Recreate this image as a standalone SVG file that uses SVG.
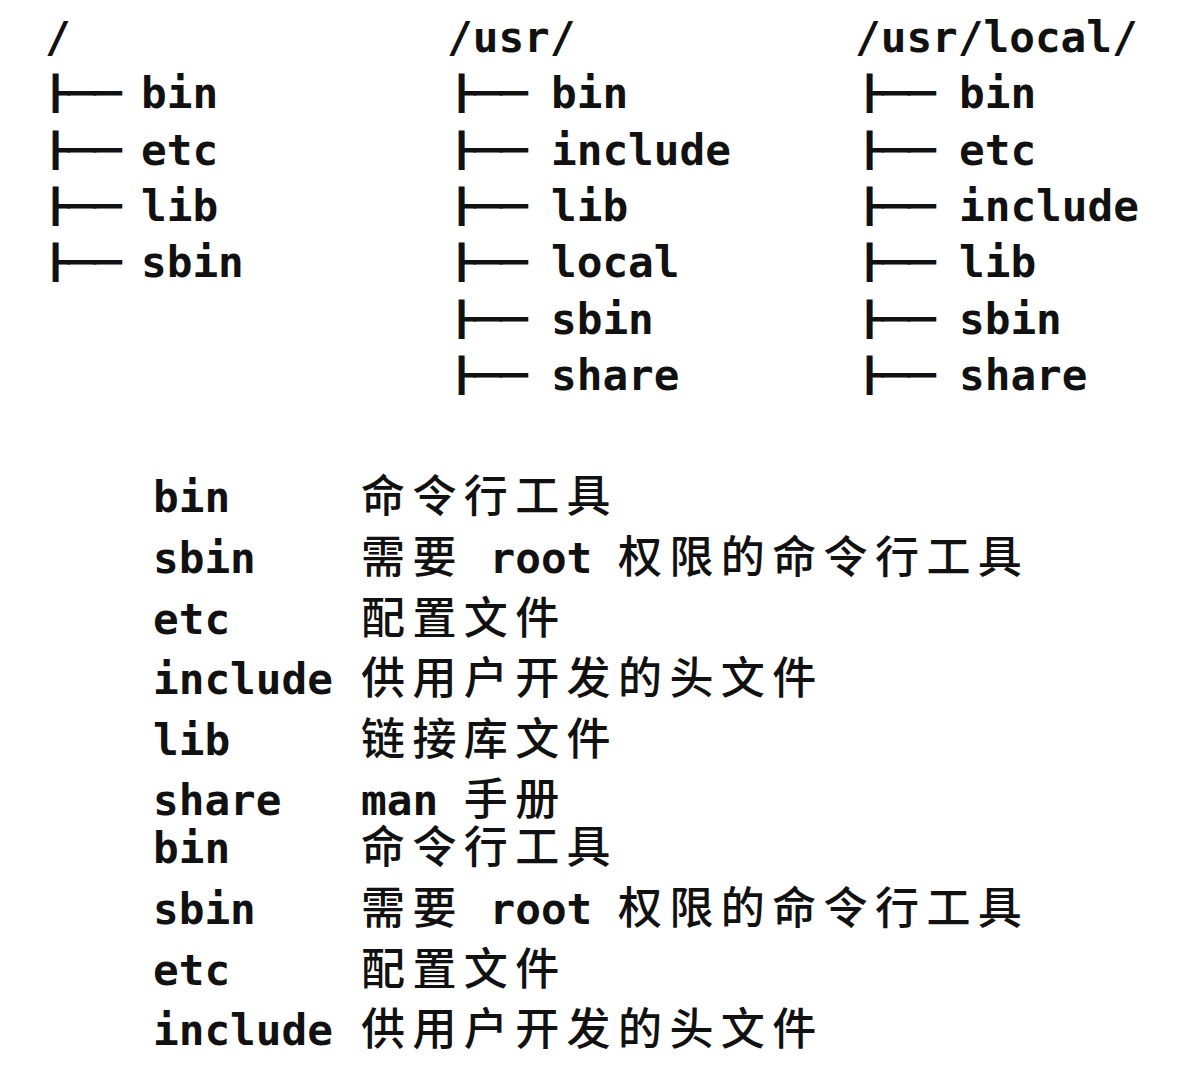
<svg xmlns="http://www.w3.org/2000/svg" width="1180" height="1072" viewBox="0 0 1180 1072">
<style>
.t{font-family:"DejaVu Sans Mono","Noto Sans CJK SC",monospace;font-size:42.7px;font-weight:700;fill:#111}
.tr{font-family:"DejaVu Sans Mono",monospace;font-size:42.7px;font-weight:700;fill:#111;stroke:#111;stroke-width:2.6px}
.c{font-family:"DejaVu Sans Mono","Noto Sans CJK SC",monospace;font-size:42.7px;font-weight:700;fill:#111}
.c tspan.z{font-family:"Noto Sans CJK SC",sans-serif;font-size:44px;font-weight:500}
</style>
<defs>
<text id="br" class="tr" x="0" y="15">├──</text>
</defs>
<rect width="1180" height="1072" fill="#fff"/>
<g id="tree-root">
<text class="t" x="45" y="52">/</text>
<use href="#br" transform="translate(43,93) scale(1,0.74)"/>
<use href="#br" transform="translate(43,150) scale(1,0.74)"/>
<use href="#br" transform="translate(43,206) scale(1,0.74)"/>
<use href="#br" transform="translate(43,262) scale(1,0.74)"/>
<text class="t" x="141" y="108">bin</text>
<text class="t" x="141" y="165">etc</text>
<text class="t" x="141" y="221">lib</text>
<text class="t" x="141" y="277">sbin</text>
</g>
<g id="tree-usr">
<text class="t" x="447" y="52">/usr/</text>
<use href="#br" transform="translate(449,93) scale(1,0.74)"/>
<use href="#br" transform="translate(449,150) scale(1,0.74)"/>
<use href="#br" transform="translate(449,206) scale(1,0.74)"/>
<use href="#br" transform="translate(449,262) scale(1,0.74)"/>
<use href="#br" transform="translate(449,319) scale(1,0.74)"/>
<use href="#br" transform="translate(449,375) scale(1,0.74)"/>
<text class="t" x="551" y="108">bin</text>
<text class="t" x="551" y="165">include</text>
<text class="t" x="551" y="221">lib</text>
<text class="t" x="551" y="277">local</text>
<text class="t" x="551" y="334">sbin</text>
<text class="t" x="551" y="390">share</text>
</g>
<g id="tree-usr-local">
<text class="t" x="855" y="52">/usr/local/</text>
<use href="#br" transform="translate(857,93) scale(1,0.74)"/>
<use href="#br" transform="translate(857,150) scale(1,0.74)"/>
<use href="#br" transform="translate(857,206) scale(1,0.74)"/>
<use href="#br" transform="translate(857,262) scale(1,0.74)"/>
<use href="#br" transform="translate(857,319) scale(1,0.74)"/>
<use href="#br" transform="translate(857,375) scale(1,0.74)"/>
<text class="t" x="959" y="108">bin</text>
<text class="t" x="959" y="165">etc</text>
<text class="t" x="959" y="221">include</text>
<text class="t" x="959" y="277">lib</text>
<text class="t" x="959" y="334">sbin</text>
<text class="t" x="959" y="390">share</text>
</g>
<g id="legend">
<text class="t" x="153" y="512">bin</text>
<text class="c" y="512"><tspan class="z" x="361 412.4 463.8 515.2 566.6">命令行工具</tspan></text>
<text class="t" x="153" y="573">sbin</text>
<text class="c" y="573"><tspan class="z" x="361 412.4">需要</tspan><tspan x="463.8 489.5 515.2 540.9 566.6 592.3"> root </tspan><tspan class="z" x="618 669.4 720.8 772.2 823.6 875 926.4 977.8">权限的命令行工具</tspan></text>
<text class="t" x="153" y="634">etc</text>
<text class="c" y="634"><tspan class="z" x="361 412.4 463.8 515.2">配置文件</tspan></text>
<text class="t" x="153" y="694">include</text>
<text class="c" y="694"><tspan class="z" x="361 412.4 463.8 515.2 566.6 618 669.4 720.8 772.2">供用户开发的头文件</tspan></text>
<text class="t" x="153" y="755">lib</text>
<text class="c" y="755"><tspan class="z" x="361 412.4 463.8 515.2 566.6">链接库文件</tspan></text>
<text class="t" x="153" y="815">share</text>
<text class="c" y="815"><tspan x="361 386.7 412.4 438.1">man </tspan><tspan class="z" x="463.8 515.2">手册</tspan></text>
<text class="t" x="153" y="863">bin</text>
<text class="c" y="863"><tspan class="z" x="361 412.4 463.8 515.2 566.6">命令行工具</tspan></text>
<text class="t" x="153" y="924">sbin</text>
<text class="c" y="924"><tspan class="z" x="361 412.4">需要</tspan><tspan x="463.8 489.5 515.2 540.9 566.6 592.3"> root </tspan><tspan class="z" x="618 669.4 720.8 772.2 823.6 875 926.4 977.8">权限的命令行工具</tspan></text>
<text class="t" x="153" y="985">etc</text>
<text class="c" y="985"><tspan class="z" x="361 412.4 463.8 515.2">配置文件</tspan></text>
<text class="t" x="153" y="1045">include</text>
<text class="c" y="1045"><tspan class="z" x="361 412.4 463.8 515.2 566.6 618 669.4 720.8 772.2">供用户开发的头文件</tspan></text>
</g>
</svg>
